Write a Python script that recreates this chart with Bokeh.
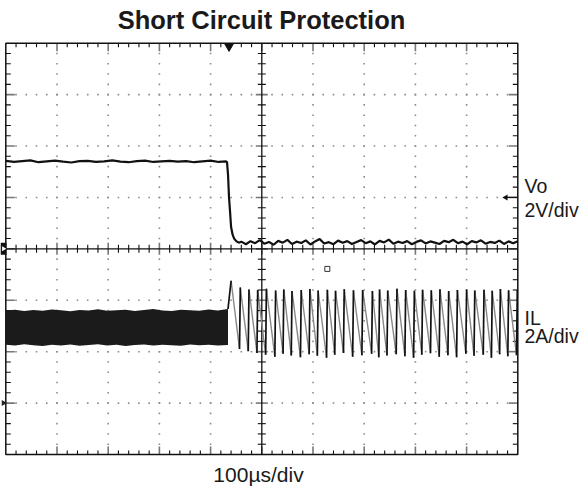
import numpy as np
from bokeh.plotting import figure
from bokeh.models import Range1d, Label
from bokeh.embed import file_html
from bokeh.resources import INLINE

# ---------------- text ----------------
title_text = "Short Circuit Protection"
time_label = "100\u00b5s/div"
vo_labels = ["Vo", "2V/div"]
il_labels = ["IL", "2A/div"]

# ---------------- scope settings ----------------
us_per_div = 100
v_per_div = 2
a_per_div = 2
vo_ground_div = 4      # Vo ground marker (centre line)
il_ground_div = 1      # IL ground marker
trigger_time_us = 436
trigger_level_div = 5

# ---------------- Vo trace (time us, volts) ----------------
vo_time = [0, 16, 32, 48, 64, 80, 96, 112, 128, 144, 160, 176, 192, 208,
           224, 240, 256, 272, 288, 304, 320, 336, 352, 368, 384, 400, 416, 430,
           432, 434, 436, 438, 440, 443, 446, 450, 455,
           460, 469, 478, 487, 496, 505, 514, 523, 532, 541, 550, 559, 568, 577, 586, 595,
           604, 613, 622, 631, 640, 649, 658, 667, 676, 685, 694, 703, 712, 721, 730, 739,
           748, 757, 766, 775, 784, 793, 802, 811, 820, 829, 838, 847, 856, 865, 874, 883,
           892, 901, 910, 919, 928, 937, 946, 955, 964, 973, 982, 991, 1000]
vo_volts = [3.42, 3.38, 3.41, 3.44, 3.37, 3.40, 3.43, 3.39, 3.36, 3.41, 3.42, 3.38, 3.40, 3.44,
            3.39, 3.37, 3.41, 3.43, 3.38, 3.40, 3.42, 3.39, 3.41, 3.37, 3.40, 3.43, 3.38, 3.40,
            3.38, 2.90, 2.00, 1.45, 0.85, 0.55, 0.40, 0.30, 0.24,
            0.28, 0.18, 0.30, 0.22, 0.34, 0.20, 0.27, 0.16, 0.31, 0.24, 0.35, 0.19, 0.28, 0.23,
            0.33, 0.17, 0.29, 0.38, 0.21, 0.26, 0.18, 0.32, 0.24, 0.30, 0.19, 0.27, 0.34, 0.22,
            0.29, 0.17, 0.31, 0.25, 0.36, 0.20, 0.28, 0.23, 0.30, 0.18, 0.27, 0.33, 0.21, 0.29,
            0.24, 0.19, 0.31, 0.26, 0.35, 0.22, 0.28, 0.18, 0.30, 0.25, 0.33, 0.20, 0.27, 0.23,
            0.32, 0.19, 0.29, 0.22, 0.30]

# ---------------- IL before short: dense switching band (time us, amps) ----------------
band_time = [0, 18, 36, 54, 72, 90, 108, 126, 144, 162, 180, 198, 216, 234,
             252, 270, 288, 306, 324, 342, 360, 378, 396, 414, 434]
band_upper = [3.60, 3.63, 3.58, 3.62, 3.59, 3.64, 3.61, 3.57, 3.62, 3.60, 3.65, 3.59, 3.61, 3.63,
              3.58, 3.62, 3.66, 3.60, 3.58, 3.63, 3.61, 3.59, 3.64, 3.60, 3.66]
band_lower = [2.27, 2.24, 2.29, 2.25, 2.22, 2.27, 2.24, 2.28, 2.23, 2.26, 2.29, 2.24, 2.27, 2.22,
              2.26, 2.28, 2.24, 2.27, 2.25, 2.23, 2.28, 2.25, 2.27, 2.24, 2.26]

# ---------------- IL after short: current-limit sawtooth ----------------
peak_time = [440, 458, 475, 492, 509, 527, 543, 559, 577, 594, 610, 628, 644, 661,
             679, 697, 716, 730, 746, 764, 781, 798, 814, 831, 848, 865, 882, 900,
             916, 934, 950, 966, 982, 999]
peak_amps = [4.76, 4.50, 4.42, 4.40, 4.45, 4.38, 4.42, 4.36, 4.40, 4.44, 4.38, 4.41, 4.37, 4.43,
             4.39, 4.40, 4.36, 4.42, 4.38, 4.45, 4.40, 4.37, 4.41, 4.39, 4.43, 4.36, 4.40, 4.42,
             4.38, 4.41, 4.37, 4.44, 4.39, 4.40]
trough_amps = [2.10, 2.02, 1.95, 1.88, 1.80, 1.92, 1.85, 1.78, 1.90, 1.84, 1.76, 1.88, 1.95, 1.80,
               1.86, 1.92, 1.78, 1.85, 1.90, 1.82, 1.76, 1.88, 1.94, 1.80, 1.86, 1.78, 1.92, 1.84,
               1.88, 1.76, 1.90, 1.82, 1.86, 1.80]
rise_us = 1.5

# ---------------- figure: whole canvas is the frame ----------------
W, H = 579, 491
GL, GR, GT, GB = 5.3, 517.3, 42.7, 454.0        # graticule edges in pixels
sx = (GR - GL) / (10 * us_per_div)              # px per us
sy = (GB - GT) / 8                              # px per division
x0r = -GL / sx
x1r = 10 * us_per_div + (W - GR) / sx
y1r = 8 + GT / sy
y0r = -(H - GB) / sy
pxx = 1 / sx
pxy = 1 / sy

def ypx(px):
    return y1r - px / sy

def xpx(px):
    return x0r + px / sx

p = figure(frame_width=W, frame_height=H,
           x_range=Range1d(x0r, x1r), y_range=Range1d(y0r, y1r),
           x_axis_type=None, y_axis_type=None,
           min_border_left=0, min_border_right=0, min_border_top=0, min_border_bottom=0,
           toolbar_location=None, output_backend="svg")
p.grid.visible = False
p.outline_line_color = None
p.background_fill_color = "white"
p.border_fill_color = "white"

XMAX = 10 * us_per_div

# graticule dots on major lines
dx, dy = [], []
for k in range(1, 10):
    if k == 5:
        continue
    for j in range(1, 40):
        dx.append(k * us_per_div); dy.append(j * 0.2)
for k in range(1, 8):
    if k == 4:
        continue
    for j in range(1, 50):
        dx.append(j * 0.2 * us_per_div); dy.append(k)
p.scatter(dx, dy, marker="square", size=1.6, fill_color="#8c8c8c", line_color=None)

seg_minor = dict(x0=[], y0=[], x1=[], y1=[])
seg_major = dict(x0=[], y0=[], x1=[], y1=[])
def add(d, a, b, c, e):
    d["x0"].append(a); d["y0"].append(b); d["x1"].append(c); d["y1"].append(e)

for j in range(1, 50):
    x = j * 0.2 * us_per_div
    major = (j % 5 == 0)
    d = seg_major if major else seg_minor
    L = 8 if major else 4
    add(d, x, 8, x, 8 - L * pxy)          # top border
    add(d, x, 0, x, L * pxy)              # bottom border
    Lc = 6 if major else 4
    add(d, x, 4 - Lc * pxy, x, 4 + Lc * pxy)   # centre horizontal
for j in range(1, 40):
    y = j * 0.2
    major = (j % 5 == 0)
    d = seg_major if major else seg_minor
    L = 9 if major else 5
    add(d, 0, y, L * pxx, y)                       # left border
    add(d, XMAX, y, XMAX - L * pxx, y)             # right border
    Lc = 6 if major else 4
    add(d, 5 * us_per_div - Lc * pxx, y, 5 * us_per_div + Lc * pxx, y)  # centre vertical
p.segment(**seg_minor, line_color="#111111", line_width=1.1)
p.segment(**seg_major, line_color="#777777", line_width=1.6)

# centre cross-hair and border
p.segment(x0=[5 * us_per_div, 0], y0=[0, 4], x1=[5 * us_per_div, XMAX], y1=[8, 4],
          line_color="#111111", line_width=1.3)
p.rect([XMAX / 2], [4], width=XMAX, height=8, fill_color=None,
       line_color="#111111", line_width=1.5)

# ---------------- traces ----------------
vo_y = np.asarray(vo_volts) / v_per_div + vo_ground_div
p.line(vo_time, vo_y, line_color="#111111", line_width=2.2)

p.varea(x=band_time,
        y1=np.asarray(band_lower) / a_per_div + il_ground_div,
        y2=np.asarray(band_upper) / a_per_div + il_ground_div,
        fill_color="#1b1b1b")

pk = np.asarray(peak_amps) / a_per_div + il_ground_div
tr = np.asarray(trough_amps) / a_per_div + il_ground_div
rx0, ry0, rx1, ry1 = [band_time[-1]], [band_upper[-1] / a_per_div + il_ground_div], [peak_time[0]], [pk[0]]
fx0, fy0, fx1, fy1 = [], [], [], []
n = len(peak_time)
for i in range(n):
    t_next = peak_time[i + 1] if i + 1 < n else XMAX
    t_end = t_next - rise_us if i + 1 < n else XMAX
    fy_end = tr[i] if i + 1 < n else pk[i] - (pk[i] - tr[i]) * (XMAX - peak_time[i]) / 16
    fx0.append(peak_time[i]); fy0.append(pk[i]); fx1.append(t_end); fy1.append(fy_end)
    if i + 1 < n:
        rx0.append(t_next - rise_us); ry0.append(tr[i]); rx1.append(t_next); ry1.append(pk[i + 1])
p.segment(fx0, fy0, fx1, fy1, line_color="#888888", line_width=1.4)
p.segment(rx0, ry0, rx1, ry1, line_color="#111111", line_width=1.7)

# ---------------- scope markers ----------------
p.scatter([trigger_time_us], [8 - 3 * pxy], marker="inverted_triangle", size=9,
          fill_color="#111111", line_color="#111111")
# channel 1 marker at left (Vo ground)
p.rect([xpx(3)], [vo_ground_div], width=6 * pxx, height=12 * pxy,
       fill_color="#111111", line_color=None)
p.scatter([xpx(3)], [vo_ground_div], marker="triangle", angle=-np.pi / 2, size=5,
          fill_color="white", line_color=None)
# IL ground marker
p.scatter([xpx(3)], [il_ground_div], marker="triangle", angle=-np.pi / 2, size=6,
          fill_color="#222222", line_color=None)
# trigger level arrow at right
p.segment([XMAX - 12 * pxx], [trigger_level_div], [XMAX], [trigger_level_div],
          line_color="#111111", line_width=1.2)
p.scatter([XMAX - 12 * pxx], [trigger_level_div], marker="triangle", angle=np.pi / 2,
          size=6, fill_color="#111111", line_color=None)
# small square marker
p.scatter([628], [3.61], marker="square", size=5, fill_color=None, line_color="#333333",
          line_width=1)

# ---------------- labels ----------------
FONT = "Liberation Sans"
SHIFT = 8   # renderer places alphabetic baseline ~8px lower than requested
p.add_layout(Label(x=xpx(261), y=ypx(27 - SHIFT), text=title_text, text_align="center",
                   text_baseline="alphabetic", text_font=FONT, text_font_size="25.5px",
                   text_font_style="bold", text_color="#1a1a1a"))
p.add_layout(Label(x=xpx(258), y=ypx(482 - SHIFT), text=time_label, text_align="center",
                   text_baseline="alphabetic", text_font=FONT, text_font_size="21px",
                   text_color="#1a1a1a"))
for txt, ys in zip(vo_labels + il_labels, [193, 217, 325, 343]):
    p.add_layout(Label(x=xpx(524), y=ypx(ys - SHIFT), text=txt, text_align="left",
                       text_baseline="alphabetic", text_font=FONT, text_font_size="19.5px",
                       text_color="#1a1a1a"))

open("out.html", "w").write(file_html(p, INLINE))
